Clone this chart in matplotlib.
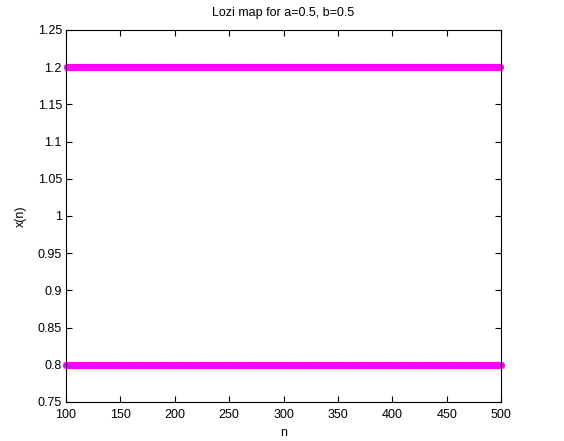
import numpy as np
import matplotlib
matplotlib.use("Agg")
import matplotlib.pyplot as plt

# Lozi map, a=0.5, b=0.5: the orbit settles onto a period-2 cycle
n_start, n_end = 100, 500
cycle_values = [0.8, 1.2]

x_ticks = [100, 150, 200, 250, 300, 350, 400, 450, 500]
y_ticks = [0.75, 0.8, 0.85, 0.9, 0.95, 1.0, 1.05, 1.1, 1.15, 1.2, 1.25]
y_tick_labels = ["0.75", "0.8", "0.85", "0.9", "0.95", "1", "1.05", "1.1", "1.15", "1.2", "1.25"]

n = np.arange(n_start, n_end + 1)
x = np.resize(np.array(cycle_values), n.size)

plt.rcParams["font.family"] = ["Liberation Sans", "DejaVu Sans"]
plt.rcParams["font.size"] = 9

fig = plt.figure(figsize=(5.64, 4.41), dpi=100)
ax = fig.add_axes([66 / 564, 1 - 402 / 441, (501 - 66) / 564, (402 - 30) / 441])

ax.plot(n, x, linestyle="none", marker="o", markersize=4.2,
        markerfacecolor="#ff00ff", markeredgecolor="#ff00ff", clip_on=False)

ax.set_xlim(n_start, n_end)
ax.set_ylim(0.75, 1.25)
ax.set_xticks(x_ticks)
ax.set_yticks(y_ticks)
ax.set_yticklabels(y_tick_labels)
ax.tick_params(direction="in", top=True, right=True, length=4, width=0.8,
               labelsize=9)
ax.tick_params(axis="x", pad=5)
ax.tick_params(axis="y", pad=3)
for s in ax.spines.values():
    s.set_linewidth(0.8)

ax.set_title("Lozi map for a=0.5, b=0.5", fontsize=9, pad=10)
ax.set_xlabel("n", fontsize=9, labelpad=4)
ax.set_ylabel("x(n)", fontsize=9, labelpad=8)

fig.savefig("out.png", dpi=100)
